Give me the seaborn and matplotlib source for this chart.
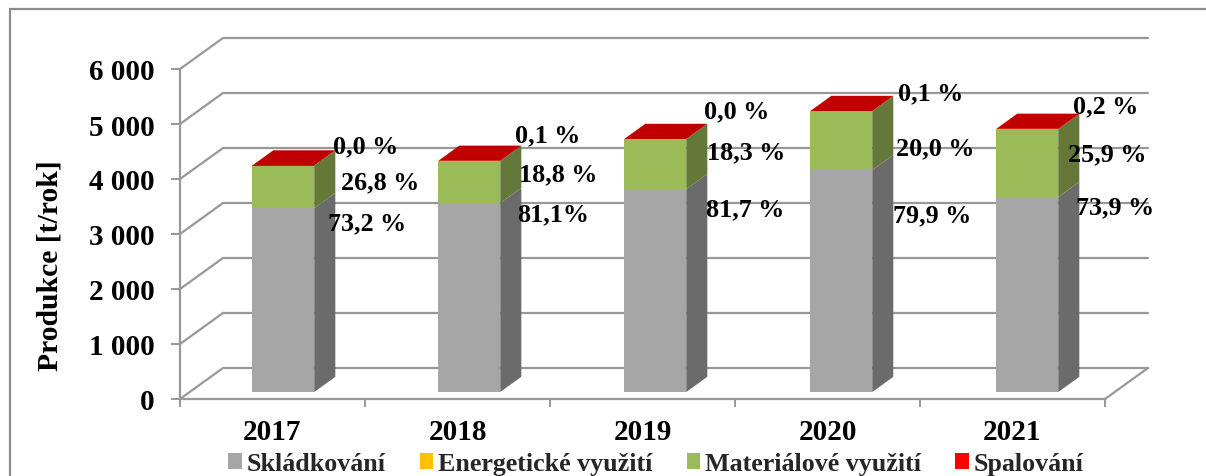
import numpy as np
import matplotlib
matplotlib.use("Agg")
import matplotlib.pyplot as plt
from matplotlib.patches import Polygon, Rectangle
from matplotlib.transforms import IdentityTransform
import seaborn as sns

years = ["2017", "2018", "2019", "2020", "2021"]
skladkovani = [3345, 3436, 3691, 4036, 3545]
energeticke = [0, 0, 0, 0, 0]
materialove = [773, 764, 909, 1068, 1230]
spalovani = [1, 4, 1, 5, 10]
series_names = ["Skládkování", "Energetické využití", "Materiálové využití", "Spalování"]
front_colors = ["#A6A6A6", "#FFC000", "#9BBB59", "#FF0000"]
side_colors = ["#6B6B6B", "#A07900", "#64783A", "#A00000"]
top_color = "#C00000"
line_color = "#989898"
y_ticks = [0, 1000, 2000, 3000, 4000, 5000, 6000]
y_labels = ["0", "1 000", "2 000", "3 000", "4 000", "5 000", "6 000"]
value_labels = [
    ["0,0 %", "26,8 %", "73,2 %"],
    ["0,1 %", "18,8 %", "81,1%"],
    ["0,0 %", "18,3 %", "81,7 %"],
    ["0,1 %", "20,0 %", "79,9 %"],
    ["0,2 %", "25,9 %", "73,9 %"],
]
label_px = [
    [(366, 147), (380, 183), (367, 224)],
    [(548, 136), (558, 175), (553, 215)],
    [(737, 112), (746, 153), (745, 210)],
    [(931, 94), (935, 149), (932, 216)],
    [(1106, 107), (1107, 155), (1115, 208)],
]

W, H = 1206, 477
sns.set_theme(style="white")
plt.rcParams["font.family"] = ["Liberation Serif", "DejaVu Serif"]
plt.rcParams["font.weight"] = "bold"

fig = plt.figure(figsize=(W / 100, H / 100), dpi=100, facecolor="white")
L, R, T, B = 180, 1105, 70, 400
ax = fig.add_axes([L / W, (H - B) / H, (R - L) / W, (B - T) / H])
ax.patch.set_alpha(0)

# outer chart frame (runs off the right and bottom edges)
fig.add_artist(Rectangle((10 / W, -0.1), 1.2, 1.1 - 10 / H, transform=fig.transFigure,
                         fill=False, edgecolor="#8C8C8C", linewidth=1.6))

# depth of the pseudo-3D scene, in data units
DX = 43 / ((R - L) / 5)
DY = 31 / ((B - T) / 6000)
BAR_W = 62 / ((R - L) / 5)
D0, D1 = 0.25, 0.74  # bar's front and back in depth fraction
STEP = 186 / 185     # bars are spaced a touch wider than the axis categories


def bx(i):
    return i * (STEP - 1) + D0 * DX


# wall and floor lines
for v in y_ticks:
    ax.plot([-0.5, -0.5 + DX, 4.5 + DX], [v, v + DY, v + DY], color=line_color, lw=1.6,
            clip_on=False, zorder=1, solid_joinstyle="miter")
ax.plot([4.5, 4.5 + DX], [0, DY], color=line_color, lw=1.6, clip_on=False, zorder=1)

# stacked front faces
bottom = np.zeros(len(years))
stack = [skladkovani, energeticke, materialove, spalovani]
for vals, name, col in zip(stack, series_names, front_colors):
    n_before = len(ax.patches)
    sns.barplot(x=years, y=vals, bottom=bottom, color=col, saturation=1, width=BAR_W,
                label=name, ax=ax, linewidth=0, zorder=3)
    for i, p in enumerate(ax.patches[n_before:]):
        p.set_x(p.get_x() + bx(i))
        p.set_y(p.get_y() + D0 * DY * 0.9)
        p.set_clip_on(False)
    bottom = bottom + np.array(vals)

# side and top faces
bottom = np.zeros(len(years))
Y0 = D0 * DY * 0.9
Y1 = Y0 + (D1 - D0) * DY
for vals, side in zip(stack, side_colors):
    for i, v in enumerate(vals):
        if v == 0:
            continue
        xr = i + BAR_W / 2 + bx(i)
        y0, y1 = bottom[i], bottom[i] + v
        ax.add_patch(Polygon(
            [(xr, y0 + Y0), (xr + (D1 - D0) * DX, y0 + Y1),
             (xr + (D1 - D0) * DX, y1 + Y1), (xr, y1 + Y0)],
            closed=True, facecolor=side, edgecolor="none", clip_on=False, zorder=2.5))
    bottom = bottom + np.array(vals)
for i, t in enumerate(bottom):
    xl, xr = i - BAR_W / 2 + bx(i), i + BAR_W / 2 + bx(i)
    d = (D1 - D0) * DX
    ax.add_patch(Polygon(
        [(xl, t + Y0), (xr, t + Y0), (xr + d, t + Y1), (xl + d, t + Y1)],
        closed=True, facecolor=top_color, edgecolor="none", clip_on=False, zorder=2.5))

ax.set_xlim(-0.5, 4.5)
ax.set_ylim(0, 6000)

sns.despine(ax=ax, top=True, right=True)
for s in ("left", "bottom"):
    ax.spines[s].set_color(line_color)
    ax.spines[s].set_linewidth(1.6)
ax.set_yticks(y_ticks, y_labels)
ax.set_xticks(range(5), years)
ax.set_xticks(np.arange(-0.5, 5, 1), minor=True)
ax.tick_params(axis="y", left=True, length=6.5, width=1.4, color=line_color, pad=12,
               labelsize=21, labelcolor="black")
ax.tick_params(axis="x", which="major", length=0, pad=14, labelsize=21, labelcolor="black")
ax.tick_params(axis="x", which="minor", bottom=True, length=6, width=1.4, color=line_color)
for t in ax.get_xticklabels() + ax.get_yticklabels():
    t.set_fontweight("bold")
ax.set_xlabel("")
ax.set_ylabel("")
fig.text(50 / W, 1 - 266 / H, "Produkce [t/rok]", rotation=90, ha="center", va="center",
         fontsize=21.3, fontweight="bold", color="black")

# percentage labels
for row, pos in zip(value_labels, label_px):
    for s, (px, py) in zip(row, pos):
        ax.text(px, H - py, s, transform=IdentityTransform(), ha="center", va="center",
                fontsize=18.8, fontweight="bold", color="black", zorder=5, clip_on=False)

handles, labels = ax.get_legend_handles_labels()
ax.legend(handles, labels, ncols=4, loc="center", bbox_to_anchor=(656 / W, 1 - 464.5 / H),
          bbox_transform=fig.transFigure, frameon=False, handlelength=0.52,
          handleheight=0.55, handletextpad=0.2, columnspacing=1.3, borderpad=0,
          prop={"family": "Liberation Serif", "weight": "bold", "size": 18.7})

fig.savefig("out.png", dpi=100)
